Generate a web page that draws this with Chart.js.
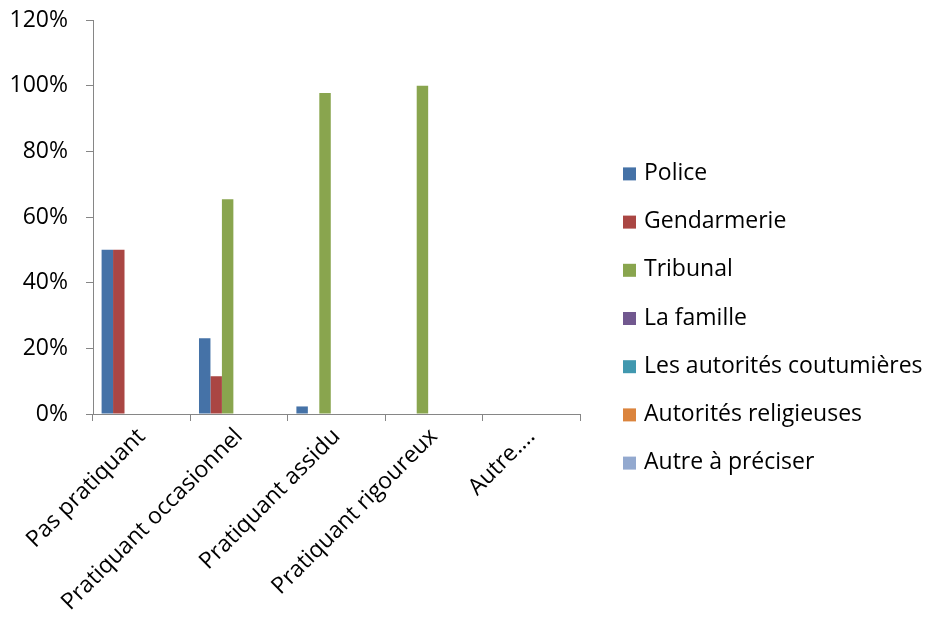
<!DOCTYPE html>
<html>
<head>
<meta charset="utf-8">
<script src="https://cdn.jsdelivr.net/npm/chart.js@4/dist/chart.umd.min.js"></script>
<style>
  html, body { margin: 0; padding: 0; background: #fff; }
  #wrap { width: 926px; height: 626px; }
</style>
</head>
<body>
<div id="wrap"><canvas id="chart"></canvas></div>
<script>
// categories and series (percent)
const categories = ['Pas pratiquant', 'Pratiquant occasionnel', 'Pratiquant assidu', 'Pratiquant rigoureux', 'Autre….'];
const police = [50, 23.1, 2.3, 0, 0];
const gendarmerie = [50, 11.5, 0, 0, 0];
const tribunal = [0, 65.4, 97.8, 100, 0];
const famille = [0, 0, 0, 0, 0];
const coutumieres = [0, 0, 0, 0, 0];
const religieuses = [0, 0, 0, 0, 0];
const autre = [0, 0, 0, 0, 0];

const seriesNames = ['Police', 'Gendarmerie', 'Tribunal', 'La famille', 'Les autorités coutumières', 'Autorités religieuses', 'Autre à préciser'];
const seriesData = [police, gendarmerie, tribunal, famille, coutumieres, religieuses, autre];
const colors = ['#4572A7', '#AA4643', '#89A54E', '#71588F', '#4198AF', '#DB843D', '#93A9CF'];

const FONT = "'Open Sans', sans-serif";
const axisColor = '#868686';

// the built-in right legend gets capped to a quarter of the width,
// so draw the legend ourselves in the space kept free on the right
const sideLegend = {
  id: 'sideLegend',
  afterDraw(chart) {
    const c = chart.ctx;
    const sets = chart.data.datasets;
    const step = 48.2;
    const x = chart.chartArea.right + 43;
    const y0 = chart.height / 2 + 5 - step * (sets.length - 1) / 2;
    c.save();
    c.font = '23px ' + FONT;
    c.textBaseline = 'middle';
    c.textAlign = 'left';
    sets.forEach((ds, i) => {
      const y = y0 + i * step;
      c.fillStyle = ds.backgroundColor;
      c.fillRect(x, y - 6, 13, 13);
      c.fillStyle = '#000';
      c.fillText(ds.label, x + 21, y);
    });
    c.restore();
  }
};

const ctx = document.getElementById('chart').getContext('2d');
new Chart(ctx, {
  type: 'bar',
  data: {
    labels: categories,
    datasets: seriesNames.map((name, i) => ({
      label: name,
      data: seriesData[i],
      backgroundColor: colors[i],
      borderWidth: 0,
      barPercentage: 1,
      categoryPercentage: 0.8235
    }))
  },
  options: {
    responsive: true,
    maintainAspectRatio: false,
    animation: false,
    layout: {
      padding: { top: 20, left: 0, right: 346, bottom: 0 }
    },
    scales: {
      y: {
        min: 0,
        max: 120,
        afterFit: s => { s.width = 93; s.paddingTop = 0; s.paddingBottom = 0; },
        ticks: {
          stepSize: 20,
          padding: 18,
          color: '#000',
          font: { family: FONT, size: 23 },
          callback: v => v + '%'
        },
        grid: {
          drawOnChartArea: false,
          drawTicks: true,
          tickLength: 7,
          color: axisColor
        },
        border: { color: axisColor, width: 1 }
      },
      x: {
        afterFit: s => { s.height = 212; },
        ticks: {
          minRotation: 45,
          maxRotation: 45,
          padding: 2,
          color: '#000',
          font: { family: FONT, size: 23 }
        },
        grid: {
          drawOnChartArea: false,
          drawTicks: true,
          tickLength: 7,
          color: axisColor
        },
        border: { color: axisColor, width: 1 }
      }
    },
    plugins: {
      legend: { display: false },
      tooltip: { enabled: false }
    }
  },
  plugins: [sideLegend]
});
</script>
</body>
</html>
